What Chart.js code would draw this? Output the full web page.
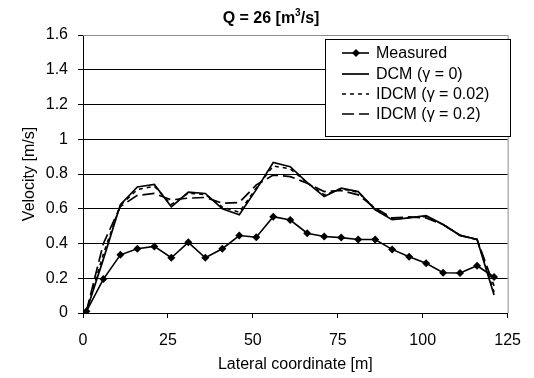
<!DOCTYPE html>
<html>
<head>
<meta charset="utf-8">
<script src="https://cdn.jsdelivr.net/npm/chart.js@4"></script>
<style>
  html, body { margin: 0; padding: 0; background: #fff; }
  #wrap { width: 534px; height: 378px; }
</style>
</head>
<body>
<div id="wrap"><canvas id="myChart" width="534" height="378"></canvas></div>
<script>
// lateral positions [m]
const lateral = [1, 6, 11, 16, 21, 26, 31, 36, 41, 46, 51, 56, 61, 66, 71, 76, 81, 86, 91, 96, 101, 106, 111, 116, 121];
const measured = [0.01, 0.195, 0.335, 0.37, 0.383, 0.318, 0.407, 0.318, 0.37, 0.446, 0.436, 0.554, 0.535, 0.459, 0.44, 0.434, 0.423, 0.423, 0.366, 0.324, 0.286, 0.232, 0.23, 0.272, 0.207];
const dcm = [0.01, 0.31, 0.623, 0.725, 0.74, 0.611, 0.695, 0.688, 0.6, 0.565, 0.71, 0.866, 0.842, 0.75, 0.67, 0.718, 0.699, 0.594, 0.537, 0.547, 0.56, 0.509, 0.447, 0.423, 0.103];
const idcm002 = [0.01, 0.34, 0.62, 0.71, 0.73, 0.625, 0.69, 0.682, 0.61, 0.58, 0.72, 0.846, 0.83, 0.75, 0.68, 0.715, 0.695, 0.6, 0.54, 0.55, 0.555, 0.509, 0.447, 0.423, 0.12];
const idcm02 = [0.01, 0.4, 0.613, 0.677, 0.688, 0.651, 0.661, 0.665, 0.632, 0.636, 0.737, 0.794, 0.785, 0.747, 0.699, 0.705, 0.68, 0.604, 0.547, 0.553, 0.547, 0.509, 0.447, 0.423, 0.156];
const xTicks = [0, 25, 50, 75, 100, 125];
const yTicks = [0, 0.2, 0.4, 0.6, 0.8, 1, 1.2, 1.4, 1.6];
const seriesNames = ["Measured", "DCM (\u03b3 = 0)", "IDCM (\u03b3 = 0.02)", "IDCM (\u03b3 = 0.2)"];

const FONT = "'Liberation Sans', Arial, sans-serif";
const pts = (arr) => arr.map((v, i) => ({ x: lateral[i], y: v }));

// title with superscript, drawn on canvas
const titlePlugin = {
  id: "qTitle",
  afterDraw(chart) {
    const c = chart.ctx;
    c.save();
    c.fillStyle = "#000";
    c.textBaseline = "alphabetic";
    const big = "bold 16px " + FONT, small = "bold 10px " + FONT;
    const p1 = "Q = 26 [m", p2 = "3", p3 = "/s]";
    c.font = big; const w1 = c.measureText(p1).width, w3 = c.measureText(p3).width;
    c.font = small; const w2 = c.measureText(p2).width;
    let x = 271 - (w1 + w2 + w3) / 2;
    const y = 23;
    c.font = big; c.fillText(p1, x, y); x += w1;
    c.font = small; c.fillText(p2, x, y - 7); x += w2;
    c.font = big; c.fillText(p3, x, y);
    c.restore();
  }
};

// gray plot border on top/right
const borderPlugin = {
  id: "plotBorder",
  beforeDatasetsDraw(chart) {
    const a = chart.chartArea, c = chart.ctx;
    c.save();
    c.strokeStyle = "#8c8c8c";
    c.lineWidth = 1;
    c.beginPath();
    c.moveTo(a.left, a.top + 0.5);
    c.lineTo(a.right + 0.5, a.top + 0.5);
    c.lineTo(a.right + 0.5, a.bottom);
    c.stroke();
    c.restore();
  }
};

// legend box inside the plot
const legendPlugin = {
  id: "boxLegend",
  afterDatasetsDraw(chart) {
    const c = chart.ctx;
    const bx = 325.5, by = 39.5, bw = 185, bh = 97;
    c.save();
    c.fillStyle = "#fff";
    c.fillRect(bx, by, bw, bh);
    c.strokeStyle = "#000";
    c.lineWidth = 1;
    c.strokeRect(bx, by, bw, bh);
    const rows = [53, 74, 94, 114];
    chart.data.datasets.forEach((ds, i) => {
      const y = rows[i];
      c.strokeStyle = "#000";
      c.lineWidth = ds.borderWidth;
      c.setLineDash(ds.borderDash || []);
      c.beginPath();
      c.moveTo(342, y);
      c.lineTo(369, y);
      c.stroke();
      c.setLineDash([]);
      if (ds.pointRadius > 0) {
        c.fillStyle = "#000";
        c.beginPath();
        c.moveTo(356, y - 4); c.lineTo(360, y); c.lineTo(356, y + 4); c.lineTo(352, y);
        c.closePath(); c.fill();
      }
      c.fillStyle = "#000";
      c.font = "16px " + FONT;
      c.textBaseline = "middle";
      c.fillText(seriesNames[i], 376, y + 1);
    });
    c.restore();
  }
};

const ctx = document.getElementById("myChart").getContext("2d");
const myChart = new Chart(ctx, {
  type: "line",
  data: {
    datasets: [
      {
        label: seriesNames[0],
        data: pts(measured),
        borderColor: "#000",
        backgroundColor: "#000",
        borderWidth: 1.6,
        pointStyle: "rectRot",
        pointRadius: 4,
        pointBorderWidth: 0,
      },
      {
        label: seriesNames[1],
        data: pts(dcm),
        borderColor: "#000",
        borderWidth: 1.7,
        pointRadius: 0,
      },
      {
        label: seriesNames[2],
        data: pts(idcm002),
        borderColor: "#000",
        borderWidth: 1.6,
        borderDash: [4, 4],
        pointRadius: 0,
      },
      {
        label: seriesNames[3],
        data: pts(idcm02),
        borderColor: "#000",
        borderWidth: 1.7,
        borderDash: [12, 5],
        pointRadius: 0,
      },
    ],
  },
  options: {
    responsive: false,
    animation: false,
    layout: { padding: { top: 35, right: 19, left: 0, bottom: 0 } },
    scales: {
      x: {
        type: "linear",
        min: 0,
        max: 125,
        afterFit: (s) => { s.height = 65; },
        afterBuildTicks: (s) => { s.ticks = xTicks.map((v) => ({ value: v })); },
        grid: { drawOnChartArea: false, color: "#000", tickLength: 5 },
        border: { color: "#000", width: 1 },
        ticks: { color: "#000", font: { family: FONT, size: 16 }, padding: 13, maxRotation: 0 },
        title: { display: true, text: "Lateral coordinate [m]", color: "#000", font: { family: FONT, size: 16 }, padding: { top: 0, bottom: 4 } },
      },
      y: {
        min: 0,
        max: 1.6,
        afterFit: (s) => { s.width = 83; },
        afterBuildTicks: (s) => { s.ticks = yTicks.map((v) => ({ value: v })); },
        grid: { color: "#000", tickLength: 5 },
        border: { color: "#000", width: 1 },
        ticks: { color: "#000", font: { family: FONT, size: 16 }, padding: 10, callback: (v) => String(+v.toFixed(1)) },
        title: { display: true, text: "Velocity [m/s]", color: "#000", font: { family: FONT, size: 16 }, padding: { top: 20, bottom: 0 } },
      },
    },
    plugins: {
      legend: { display: false },
      tooltip: { enabled: false },
    },
  },
  plugins: [borderPlugin, legendPlugin, titlePlugin],
});
</script>
</body>
</html>
